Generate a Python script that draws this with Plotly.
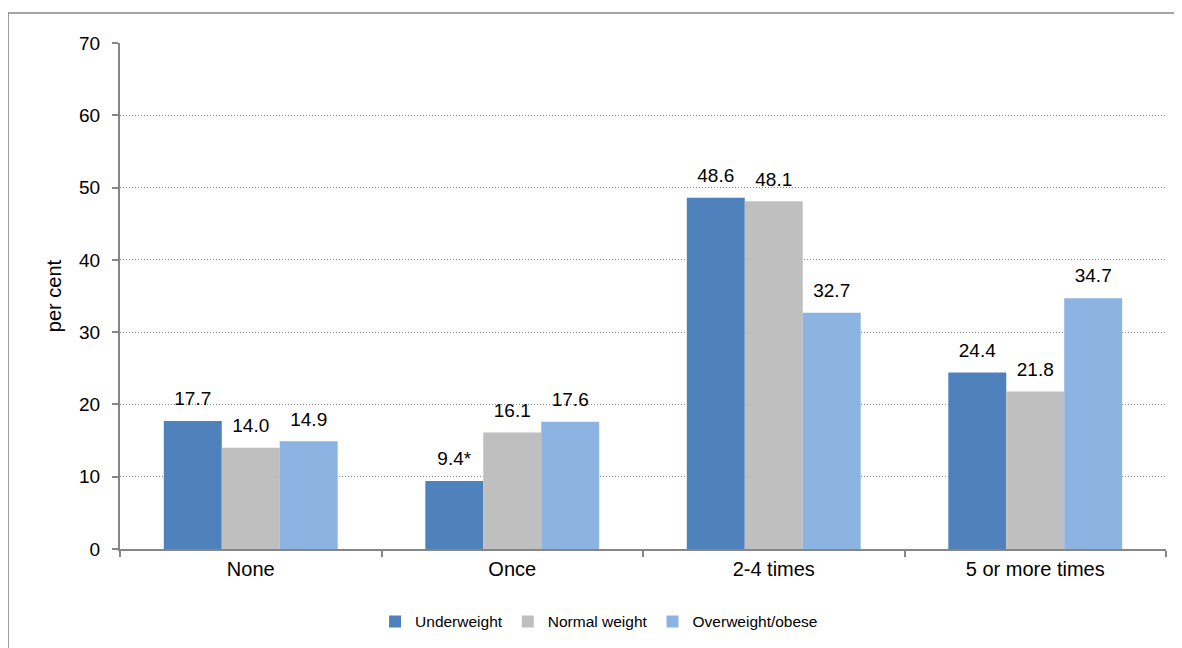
import plotly.graph_objects as go

categories = ["None", "Once", "2-4 times", "5 or more times"]
series_names = ["Underweight", "Normal weight", "Overweight/obese"]
underweight = [17.7, 9.4, 48.6, 24.4]
normal_weight = [14.0, 16.1, 48.1, 21.8]
overweight = [14.9, 17.6, 32.7, 34.7]
underweight_labels = ["17.7", "9.4*", "48.6", "24.4"]
normal_labels = ["14.0", "16.1", "48.1", "21.8"]
overweight_labels = ["14.9", "17.6", "32.7", "34.7"]
colors = ["#4F81BD", "#BFBFBF", "#8DB3E2"]

fig = go.Figure()
all_vals = [underweight, normal_weight, overweight]
all_labs = [underweight_labels, normal_labels, overweight_labels]
for name, vals, col in zip(series_names, all_vals, colors):
    fig.add_trace(go.Bar(
        x=categories, y=vals, name=name, offsetgroup=name,
        marker=dict(color=col, line=dict(width=0)),
    ))
for name, vals, labs in zip(series_names, all_vals, all_labs):
    fig.add_trace(go.Scatter(
        x=categories, y=vals, text=labs, mode="markers+text", offsetgroup=name,
        textposition="top center", showlegend=False, hoverinfo="skip",
        marker=dict(size=16, color="rgba(0,0,0,0)"), cliponaxis=False,
        textfont=dict(family="Liberation Sans, Arial", size=19, color="#000000"),
    ))

# page body has an 8px default margin, so the figure is sized to fit the window
fig.update_layout(
    width=1174, height=640,
    paper_bgcolor="white", plot_bgcolor="white",
    margin=dict(l=112, r=16, t=35, b=99, autoexpand=False),
    barmode="group", bargap=0.335, bargroupgap=0,
    scattermode="group", scattergap=0.335,
    font=dict(family="Liberation Sans, Arial", color="#000000"),
    legend=dict(orientation="h", x=0.458, xanchor="center", y=-0.144, yanchor="middle",
                font=dict(size=15.5), itemwidth=30, traceorder="normal",
                tracegroupgap=0, bgcolor="rgba(0,0,0,0)"),
    showlegend=True,
)
fig.update_xaxes(
    type="category", tickson="boundaries", ticks="outside", ticklen=6, tickcolor="#868686",
    tickwidth=1.5,
    showline=True, linecolor="#868686", linewidth=2, showgrid=False,
    tickfont=dict(size=20), ticklabelstandoff=1,
)
fig.update_yaxes(
    range=[0, 70], dtick=10, ticks="outside", ticklen=6, tickcolor="#868686", tickwidth=1.5,
    showline=True, linecolor="#868686", linewidth=2,
    showgrid=True, gridcolor="#868686", griddash="1px,2px", gridwidth=1,
    tickfont=dict(size=19), zeroline=False, ticklabelstandoff=8,
    title=dict(text="per cent", font=dict(size=20), standoff=12),
)
fig.add_shape(type="rect", xref="paper", yref="paper",
              x0=-0.107, x1=1.03, y0=-0.3, y1=1.0593,
              line=dict(color="#888888", width=1.5), fillcolor="rgba(0,0,0,0)", layer="below")
fig.write_html("out.html")
